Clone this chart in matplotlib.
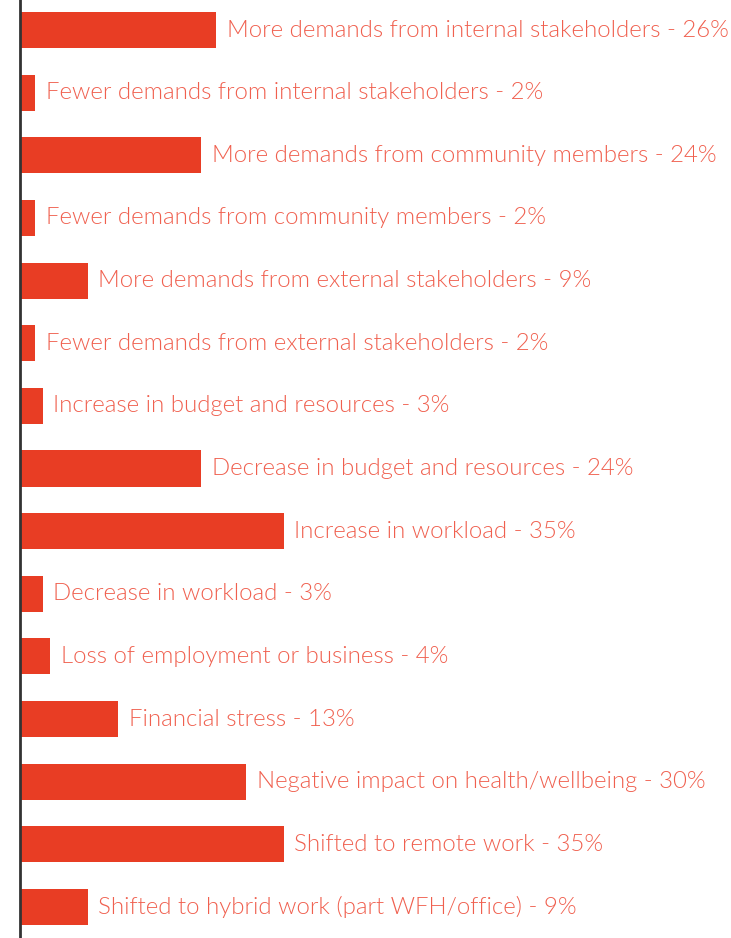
import matplotlib
matplotlib.use("Agg")
import matplotlib.pyplot as plt
from matplotlib import font_manager as fm

categories = [
    "More demands from internal stakeholders",
    "Fewer demands from internal stakeholders",
    "More demands from community members",
    "Fewer demands from community members",
    "More demands from external stakeholders",
    "Fewer demands from external stakeholders",
    "Increase in budget and resources",
    "Decrease in budget and resources",
    "Increase in workload",
    "Decrease in workload",
    "Loss of employment or business",
    "Financial stress",
    "Negative impact on health/wellbeing",
    "Shifted to remote work",
    "Shifted to hybrid work (part WFH/office)",
]
values = [26, 2, 24, 2, 9, 2, 3, 24, 35, 3, 4, 13, 30, 35, 9]

bar_color = "#E83D24"
text_color = "#F0604F"

# Prefer a light sans weight for the labels
label_font = fm.FontProperties(family="Lato", size=17.25)
for path in fm.findSystemFonts():
    name = path.split("/")[-1]
    if name in ("Lato-Light.ttf", "Roboto-Light.ttf"):
        label_font = fm.FontProperties(fname=path, size=17.25)
        if name.startswith("Lato"):
            break

fig = plt.figure(figsize=(7.31, 9.38), dpi=100)
ax = fig.add_axes([20 / 731, 0, 711 / 731, 1])

y = list(range(len(categories)))
ax.barh(y, values, height=0.575, color=bar_color, zorder=1)

for yi, cat, v in zip(y, categories, values):
    ax.text(v + 1.4, yi, f"{cat} - {v}%", va="center", ha="left",
            color=text_color, fontproperties=label_font)

ax.set_xlim(0, 711 / 7.54)
ax.set_ylim(14.495, -0.479)
for side in ["top", "right", "bottom"]:
    ax.spines[side].set_visible(False)
ax.spines["left"].set_color("#333333")
ax.spines["left"].set_linewidth(2)
ax.spines["left"].set_zorder(3)
ax.set_xticks([])
ax.set_yticks([])

fig.savefig("out.png", dpi=100)
